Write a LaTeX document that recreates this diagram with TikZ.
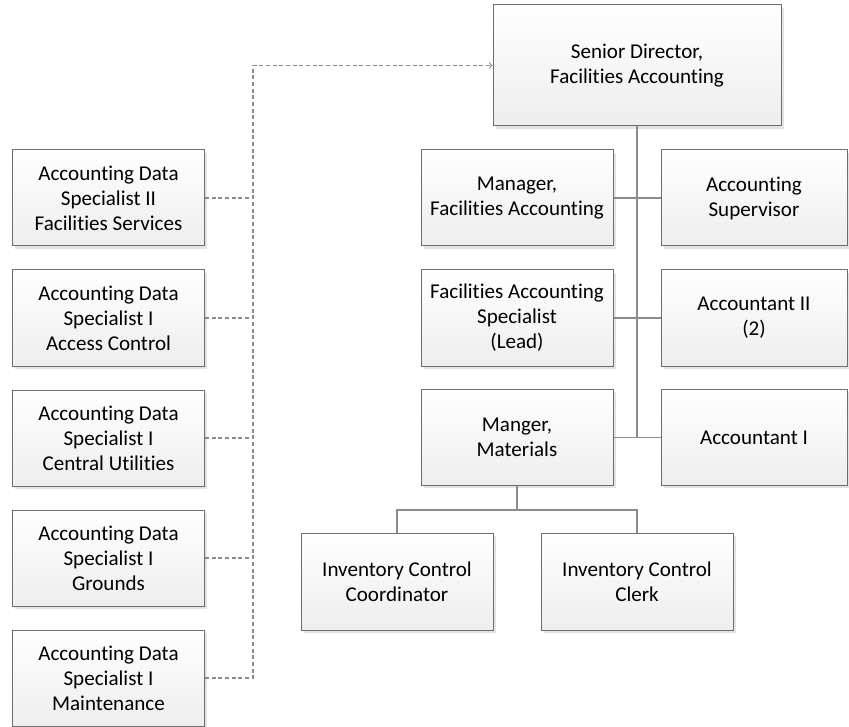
\documentclass[tikz,border=0pt]{standalone}
\usepackage{fontspec}
\setmainfont{Carlito}[Ligatures=NoCommon]
\usetikzlibrary{arrows,shadows}
\definecolor{boxline}{HTML}{6E6E6E}
\definecolor{linkgray}{HTML}{8C8C8C}
\begin{document}
\begin{tikzpicture}[x=0.75pt,y=-0.75pt]
\tikzset{orgbox/.style = {shape=rectangle,draw=boxline,line width=0.75pt,
  top color=white,bottom color=black!7,align=center,inner sep=1pt,
  font=\fontsize{15.8}{18.8}\selectfont,
  drop shadow={shadow xshift=2.2pt,shadow yshift=-2.2pt,fill=black!18,opacity=0.6},
  minimum width=144pt,minimum height=72pt}}
\tikzset{orgline/.style = {-,draw=linkgray,line width=0.8pt}}
\tikzset{dotline/.style = {-,draw=linkgray,line width=0.8pt,dash pattern=on 3pt off 2pt}}
\useasboundingbox (0,0) rectangle (849,727);
% top
\node[orgbox,minimum width=216pt,minimum height=90.75pt] (sd) at (637,65.5) {Senior Director,\\Facilities Accounting};
% left column
\node[orgbox] (ads1) at (108.5,198) {Accounting Data\\Specialist II\\Facilities Services};
\node[orgbox] (ads2) at (108.5,318) {Accounting Data\\Specialist I\\Access Control};
\node[orgbox] (ads3) at (108.5,438) {Accounting Data\\Specialist I\\Central Utilities};
\node[orgbox] (ads4) at (108.5,558) {Accounting Data\\Specialist I\\Grounds};
\node[orgbox] (ads5) at (108.5,678) {Accounting Data\\Specialist I\\Maintenance};
% middle and right
\node[orgbox] (mfa) at (517,198) {Manager,\\Facilities Accounting};
\node[orgbox] (fas) at (517,318) {Facilities Accounting\\Specialist\\(Lead)};
\node[orgbox] (mat) at (517,437.5) {Manger,\\Materials};
\node[orgbox,minimum width=139.5pt] (sup) at (754,198) {Accounting\\Supervisor};
\node[orgbox,minimum width=139.5pt] (ac2) at (754,318) {Accountant II\\(2)};
\node[orgbox,minimum width=139.5pt] (ac1) at (754,437.5) {Accountant I};
% materials staff
\node[orgbox,minimum height=72.75pt] (icc) at (397,581.5) {Inventory Control\\Coordinator};
\node[orgbox,minimum height=72.75pt] (icl) at (637,581.5) {Inventory Control\\Clerk};
% solid links
\draw[orgline] (sd.south) -- (sd.south |- ac1.west);
\draw[orgline] (mfa.east) -- (sup.west);
\draw[orgline] (fas.east) -- (ac2.west);
\draw[orgline] (mat.east) -- (ac1.west);
\draw[orgline] (mat.south) -- ++(0,24) -| (icc.north);
\draw[orgline] (mat.south) -- ++(0,24) -| (icl.north);
% dashed links
\coordinate (bus) at (253,0);
\draw[dotline,->] (ads5.east) -| (bus |- sd.west) -- (sd.west);
\draw[dotline] (ads1.east) -- (ads1.east -| bus);
\draw[dotline] (ads2.east) -- (ads2.east -| bus);
\draw[dotline] (ads3.east) -- (ads3.east -| bus);
\draw[dotline] (ads4.east) -- (ads4.east -| bus);
\end{tikzpicture}
\end{document}
